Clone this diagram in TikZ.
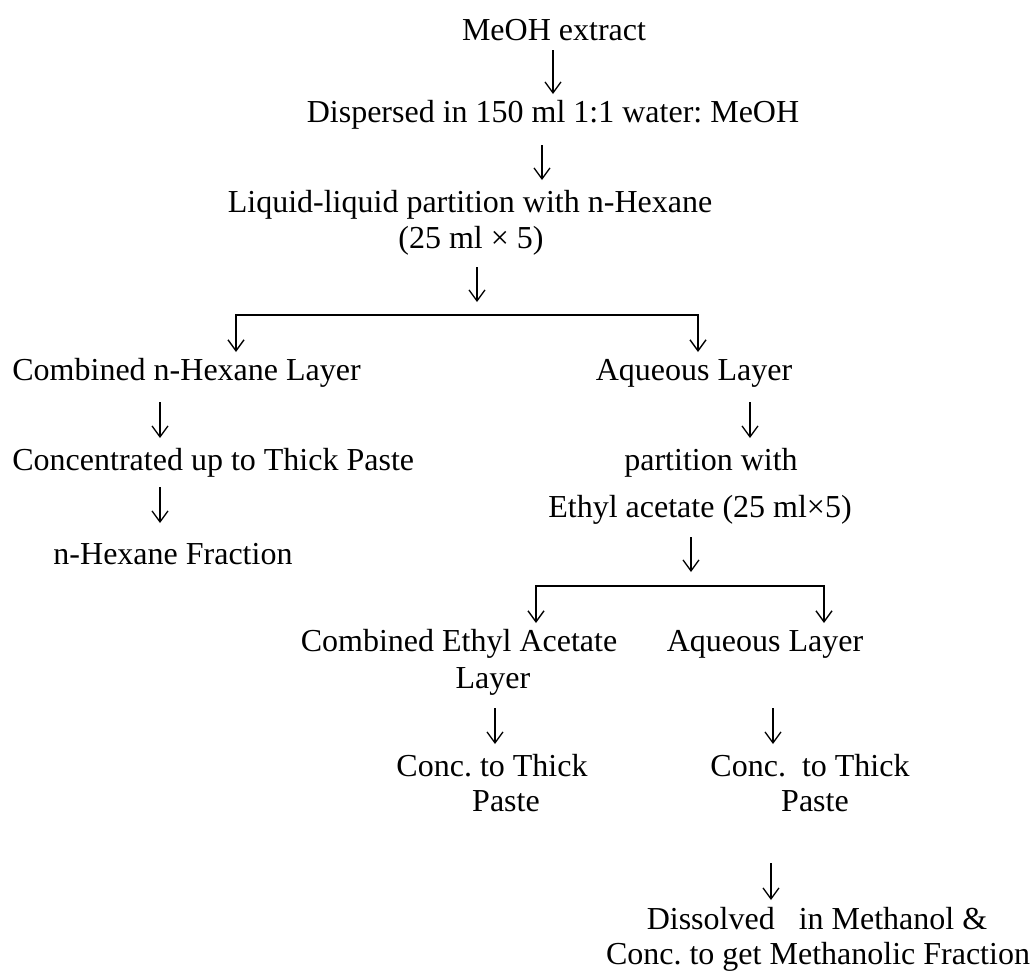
\documentclass[tikz,border=0pt]{standalone}
\usepackage{fontspec}
\setmainfont{Liberation Serif}
\usetikzlibrary{arrows.meta}
\tikzset{
  >={Straight Barb[length=5.5pt,width=8pt]},
  % --- nodes
  txt/.style  = {anchor=base, inner sep=0pt,
                 font=\fontsize{16}{19}\selectfont\frenchspacing},
  txtl/.style = {txt, anchor=base west},
  % --- edges
  flow/.style = {->, line width=0.65pt, shorten <=10pt, shorten >=16pt},
  leg/.style  = {->, line width=0.7pt, shorten >=14pt},
  bar/.style  = {line width=1.1pt, line cap=rect},
}
\begin{document}
\begin{tikzpicture}[x=0.5pt,y=-0.5pt]
  \useasboundingbox (0,0) rectangle (1030,976);

  % main column
  \node[txt] (meoh)  at (554,40)  {MeOH extract};
  \node[txt] (disp)  at (553,122) {Dispersed in 150 ml 1:1 water: MeOH};
  \node[txt] (liq1)  at (470,212) {Liquid-liquid partition with n-Hexane};
  \node[txt] (liq2)  at (471,248) {(25 ml × 5)};

  % n-hexane branch
  \node[txtl] (hex)   at (12,380)  {Combined n-Hexane Layer};
  \node[txtl] (conc)  at (12,470)  {Concentrated up to Thick Paste};
  \node[txt]  (hexfr) at (173,564) {n-Hexane Fraction};

  % aqueous branch
  \node[txt] (aq)    at (694,380) {Aqueous Layer};
  \node[txt] (part)  at (711,470) {partition with};
  \node[txt] (ethyl) at (700,517) {Ethyl acetate (25 ml×5)};

  % ethyl acetate split
  \node[txt] (ea1)   at (459,651) {Combined Ethyl Acetate};
  \node[txt] (ea2)   at (493,688) {Layer};
  \node[txt] (aq2)   at (765,651) {Aqueous Layer};
  \node[txt] (cl1)   at (492,776) {Conc. to Thick};
  \node[txt] (cl2)   at (506,811) {Paste};
  \node[txt] (cr1)   at (810,776) {Conc.\ \ to Thick};
  \node[txt] (cr2)   at (815,811) {Paste};
  \node[txt] (diss1) at (817,929) {Dissolved\ \ \ in Methanol \&};
  \node[txt] (diss2) at (818,964) {Conc. to get Methanolic Fraction};

  % forks
  \coordinate (fork1l) at (236,315);
  \coordinate (fork1r) at (698,315);
  \coordinate (fork2l) at (536,586);
  \coordinate (fork2r) at (824,586);

  \draw[bar] (fork1l) -- (fork1r);
  \draw[bar] (fork2l) -- (fork2r);

  % arrows
  \draw[flow, shorten <=5pt, shorten >=14pt] (meoh.base -| 553,0) -- (disp.base -| 553,0);
  \draw[flow, shorten <=11.5pt] (disp.base -| 542,0) -- (liq1.base -| 542,0);
  \draw[flow, shorten <=9.5pt, shorten >=6.5pt] (liq2.base -| 477,0) -- (fork1l -| 477,0);
  \draw[leg] (fork1l) -- (hex.base -| fork1l);
  \draw[leg] (fork1r) -- (aq.base -| fork1r);
  \draw[flow, shorten <=11pt] (hex.base -| 160,0) -- (conc.base -| 160,0);
  \draw[flow, shorten <=11pt] (aq.base -| 750,0) -- (part.base -| 750,0);
  \draw[flow, shorten <=8.5pt, shorten >=20.5pt] (conc.base -| 160,0) -- (hexfr.base -| 160,0);
  \draw[flow, shorten <=10pt, shorten >=7pt] (ethyl.base -| 691,0) -- (fork2l -| 691,0);
  \draw[leg] (fork2l) -- (ea1.base -| fork2l);
  \draw[leg] (fork2r) -- (aq2.base -| fork2r);
  \draw[flow] (ea2.base -| 495,0) -- (cl1.base -| 495,0);
  \draw[flow, shorten <=28.5pt] (aq2.base -| 773,0) -- (cr1.base -| 773,0);
  \draw[flow, shorten <=26pt, shorten >=14.5pt] (cr2.base -| 771,0) -- (diss1.base -| 771,0);
\end{tikzpicture}
\end{document}
